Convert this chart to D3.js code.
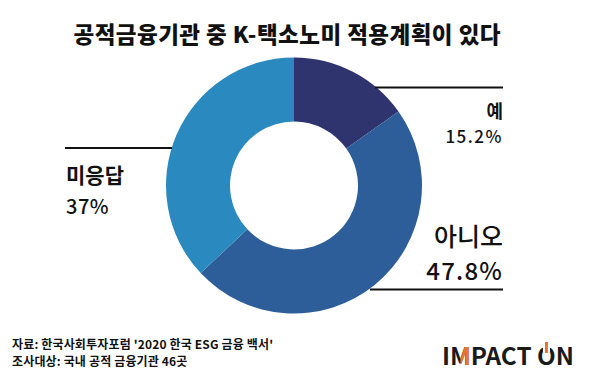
<!DOCTYPE html>
<html>
<head>
<meta charset="utf-8">
<script src="https://cdn.jsdelivr.net/npm/d3@7"></script>
<style>
  body { margin: 0; background: #fff; }
  text { font-family: "Noto Sans CJK KR", "Noto Sans", sans-serif; fill: #111; }
</style>
</head>
<body>
<svg id="chart" width="600" height="373"></svg>
<script>
// data
let categories = ["예", "아니오", "미응답"];
let values = [15.2, 47.8, 37];
let valueLabels = ["15.2%", "47.8%", "37%"];
let colors = ["#2f346f", "#2d5e99", "#2a89be"];

let svg = d3.select("#chart"),
    cx = 294,
    cy = 185.5,
    outerR = 128,
    innerR = 64;

let pie = d3.pie().sort(null).value(function(d) { return d; });
let arc = d3.arc().innerRadius(innerR).outerRadius(outerR);

// title
svg.append("text")
    .attr("x", 287)
    .attr("y", 43)
    .attr("text-anchor", "middle")
    .attr("font-size", "22.5px")
    .attr("font-weight", 900)
    .attr("textLength", 427)
    .text("공적금융기관 중 K-택소노미 적용계획이 있다");

// donut
let g = svg.append("g")
    .attr("transform", "translate(" + cx + "," + cy + ")");

g.selectAll(".slice")
    .data(pie(values))
    .enter().append("path")
    .attr("class", "slice")
    .attr("fill", function(d, i) { return colors[i]; })
    .attr("d", arc);

// leader lines
let lines = [
    [375, 87.5, 503, 87.5],
    [370, 289.5, 503, 289.5],
    [65, 148, 172, 148]
];
svg.selectAll(".lead")
    .data(lines)
    .enter().append("line")
    .attr("class", "lead")
    .attr("x1", function(d) { return d[0]; })
    .attr("y1", function(d) { return d[1]; })
    .attr("x2", function(d) { return d[2]; })
    .attr("y2", function(d) { return d[3]; })
    .attr("stroke", "#111")
    .attr("stroke-width", 2.2);

// labels: name + value
let labelSpec = [
    {x: 503, y1: 118, y2: 143, anchor: "end", s1: 18, s2: 17, w1: 700, w2: 500, ls: 1.5},
    {x: 503, y1: 246, y2: 280, anchor: "end", s1: 25, s2: 24, w1: 500, w2: 500, ls: 1.2},
    {x: 66, y1: 183, y2: 214, anchor: "start", s1: 21, s2: 20, w1: 700, w2: 500, ls: 0.5}
];

labelSpec.forEach(function(p, i) {
    svg.append("text")
        .attr("x", p.x)
        .attr("y", p.y1)
        .attr("text-anchor", p.anchor)
        .attr("font-size", p.s1 + "px")
        .attr("font-weight", p.w1)
        .text(categories[i]);
    svg.append("text")
        .attr("x", p.x)
        .attr("y", p.y2)
        .attr("text-anchor", p.anchor)
        .attr("font-size", p.s2 + "px")
        .attr("font-weight", p.w2)
        .attr("letter-spacing", p.ls + "px")
        .text(valueLabels[i]);
});

// source notes
let notes = ["자료: 한국사회투자포럼 '2020 한국 ESG 금융 백서'", "조사대상: 국내 공적 금융기관 46곳"];
svg.selectAll(".note")
    .data(notes)
    .enter().append("text")
    .attr("class", "note")
    .attr("x", 12)
    .attr("y", function(d, i) { return 349 + i * 16.5; })
    .attr("font-size", "12px")
    .attr("font-weight", 700)
    .attr("letter-spacing", "0.15px")
    .text(function(d) { return d; });

// logo
let logoFont = "'DejaVu Sans Condensed', 'Liberation Sans Narrow', sans-serif";
function logoText(fill) {
    return svg.append("text")
        .attr("x", 442)
        .attr("y", 365)
        .attr("font-family", logoFont)
        .attr("font-size", "24px")
        .attr("font-weight", "bold")
        .attr("textLength", 132)
        .attr("lengthAdjust", "spacingAndGlyphs")
        .style("fill", fill)
        .text("IMPACT ON");
}
let logo = logoText("#1a1a1a");
let mBox = logo.node().getExtentOfChar(1),
    oBox = logo.node().getExtentOfChar(7);

// orange right half of the M
svg.append("clipPath").attr("id", "mclip")
    .append("rect")
    .attr("x", mBox.x + mBox.width * 0.5)
    .attr("y", mBox.y)
    .attr("width", mBox.width * 0.5)
    .attr("height", mBox.height);
logoText("#e8762c").attr("clip-path", "url(#mclip)");

// power symbol on the O
let ox = oBox.x + oBox.width / 2;
svg.append("rect")
    .attr("x", ox - 3.5)
    .attr("y", 345)
    .attr("width", 7)
    .attr("height", 7)
    .attr("fill", "#fff");
svg.append("rect")
    .attr("x", ox - 1.5)
    .attr("y", 342)
    .attr("width", 3)
    .attr("height", 11)
    .attr("fill", "#e8762c");
</script>
</body>
</html>
